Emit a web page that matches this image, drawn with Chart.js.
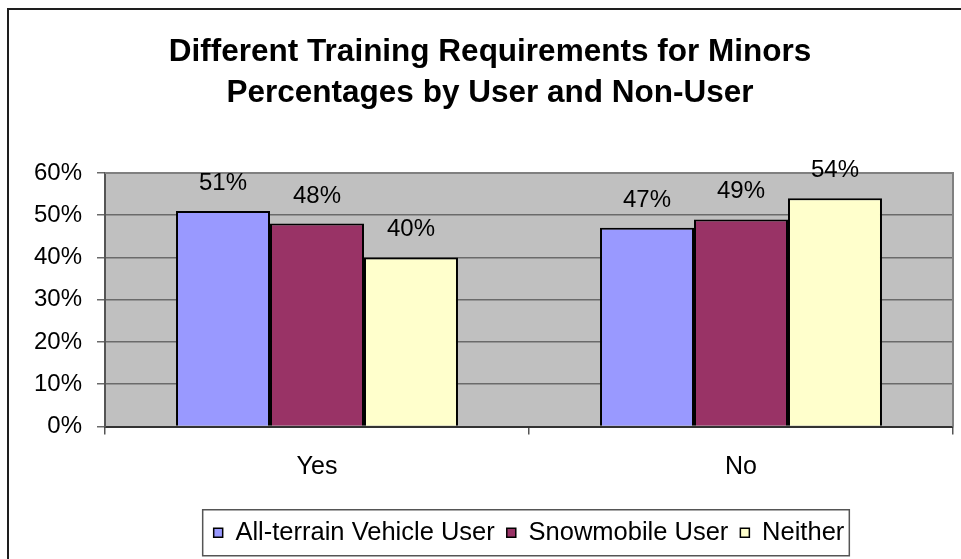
<!DOCTYPE html>
<html>
<head>
<meta charset="utf-8">
<script src="https://cdn.jsdelivr.net/npm/chart.js@4.4.0/dist/chart.umd.min.js"></script>
<style>
  html, body { margin: 0; padding: 0; background: #fff; }
  #wrap { width: 961px; height: 559px; position: relative; }
</style>
</head>
<body>
<div id="wrap"><canvas id="myChart"></canvas></div>
<script>
// chart values
const categories = ['Yes', 'No'];
const atvUser = [51, 47];
const snowmobileUser = [48, 49];
const neither = [40, 54];
const seriesNames = ['All-terrain Vehicle User', 'Snowmobile User', 'Neither'];
const titleLines = ['Different Training Requirements for Minors', 'Percentages by User and Non-User'];
const yMax = 60;
const yStep = 10;

const FONT = "Arial, 'Liberation Sans', sans-serif";

// white page, outer frame, grey plot area, value labels, legend box
const chartFrame = {
  id: 'chartFrame',
  beforeDraw(chart) {
    const ctx = chart.ctx, a = chart.chartArea;
    ctx.save();
    ctx.fillStyle = '#fff';
    ctx.fillRect(0, 0, chart.width, chart.height);
    ctx.strokeStyle = '#1e1e1e';
    ctx.lineWidth = 2;
    ctx.strokeRect(8, 9, chart.width + 20, chart.height + 20);
    ctx.fillStyle = '#c0c0c0';
    ctx.fillRect(a.left, a.top, a.right - a.left, a.bottom - a.top);
    ctx.restore();
  },
  beforeDatasetsDraw(chart) {
    const ctx = chart.ctx, a = chart.chartArea;
    ctx.save();
    ctx.strokeStyle = '#808080';
    ctx.lineWidth = 2;
    ctx.beginPath();
    ctx.moveTo(a.left, a.top);
    ctx.lineTo(a.right, a.top);
    ctx.lineTo(a.right, a.bottom);
    ctx.stroke();
    ctx.restore();
  },
  afterDatasetsDraw(chart) {
    const ctx = chart.ctx;
    ctx.save();
    ctx.font = '24px ' + FONT;
    ctx.fillStyle = '#000';
    ctx.textAlign = 'center';
    ctx.textBaseline = 'alphabetic';
    chart.data.datasets.forEach((ds, i) => {
      chart.getDatasetMeta(i).data.forEach((bar, j) => {
        ctx.fillText(ds.data[j] + '%', bar.x, bar.y - 21);
      });
    });
    ctx.restore();
  },
  afterDraw(chart) {
    const ctx = chart.ctx;
    const boxes = chart.legend.legendHitBoxes;
    const left = Math.min(...boxes.map(b => b.left)) - 11;
    const right = Math.max(...boxes.map(b => b.left + b.width)) + 5;
    const cy = boxes[0].top + boxes[0].height / 2;
    ctx.save();
    ctx.strokeStyle = '#555';
    ctx.lineWidth = 1.5;
    ctx.strokeRect(left, cy - 23, right - left, 46);
    ctx.restore();
  }
};

const ctx = document.getElementById('myChart');

var chart = new Chart(ctx, {
  type: 'bar',
  data: {
    labels: categories,
    datasets: [
      { label: seriesNames[0], data: atvUser, backgroundColor: '#9999ff' },
      { label: seriesNames[1], data: snowmobileUser, backgroundColor: '#993366' },
      { label: seriesNames[2], data: neither, backgroundColor: '#ffffcc' }
    ]
  },
  options: {
    responsive: true,
    maintainAspectRatio: false,
    animation: false,
    datasets: {
      bar: {
        borderColor: '#000',
        borderWidth: 2,
        categoryPercentage: 0.665,
        barPercentage: 1.0
      }
    },
    layout: { padding: { left: 27, right: 8, top: 0, bottom: 3.5 } },
    plugins: {
      title: {
        display: true,
        text: titleLines,
        color: '#000',
        font: { family: FONT, size: 31.5, weight: 'bold', lineHeight: 1.3 },
        padding: { top: 32, bottom: 59 }
      },
      legend: {
        position: 'bottom',
        fullSize: false,
        labels: {
          color: '#000',
          font: { family: FONT, size: 25.5 },
          boxWidth: 9,
          boxHeight: 9,
          padding: 12,
          generateLabels(chart) {
            const items = Chart.defaults.plugins.legend.labels.generateLabels(chart);
            items.forEach(it => { it.lineWidth = 1.5; it.strokeStyle = '#000'; });
            return items;
          }
        }
      },
      tooltip: { enabled: false }
    },
    scales: {
      x: {
        grid: { display: true, drawOnChartArea: false, offset: true, tickLength: 8, color: '#555', lineWidth: 1.5 },
        border: { color: '#333', width: 2 },
        ticks: { color: '#000', font: { family: FONT, size: 25 }, padding: 18 },
        afterFit(scale) { scale.height = 81.5; }
      },
      y: {
        min: 0,
        max: yMax,
        ticks: {
          stepSize: yStep,
          color: '#000',
          font: { family: FONT, size: 24 },
          padding: 15,
          callback: v => v + '%'
        },
        grid: { color: '#6a6a6a', lineWidth: 1.5, tickLength: 8 },
        border: { color: '#555', width: 2 },
        afterFit(scale) { scale.width = 78; }
      }
    }
  },
  plugins: [chartFrame]
});
</script>
</body>
</html>
